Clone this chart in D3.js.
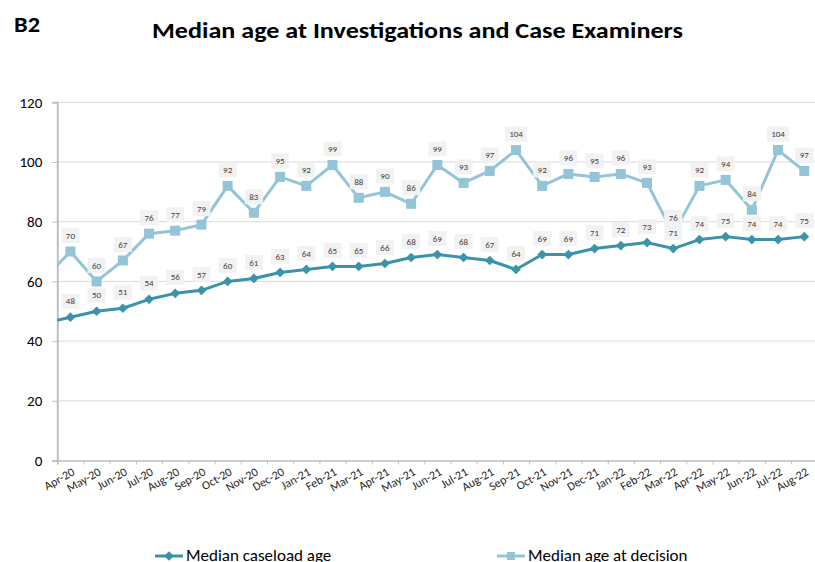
<!DOCTYPE html>
<html>
<head>
<meta charset="utf-8">
<script src="https://cdn.jsdelivr.net/npm/d3@7"></script>
<style>
  body { margin: 0; background: #fff; }
  text { font-family: Calibri, Carlito, Lato, "Open Sans", sans-serif; }
</style>
</head>
<body>
<div id="chart-area"></div>
<script>
// months shown on the axis
const months = ["Apr-20", "May-20", "Jun-20", "Jul-20", "Aug-20", "Sep-20", "Oct-20", "Nov-20", "Dec-20",
  "Jan-21", "Feb-21", "Mar-21", "Apr-21", "May-21", "Jun-21", "Jul-21", "Aug-21", "Sep-21", "Oct-21",
  "Nov-21", "Dec-21", "Jan-22", "Feb-22", "Mar-22", "Apr-22", "May-22", "Jun-22", "Jul-22", "Aug-22"];

const caseloadAge = [48, 50, 51, 54, 56, 57, 60, 61, 63, 64, 65, 65, 66, 68, 69, 68, 67, 64, 69, 69,
  71, 72, 73, 71, 74, 75, 74, 74, 75];
const decisionAge = [70, 60, 67, 76, 77, 79, 92, 83, 95, 92, 99, 88, 90, 86, 99, 93, 97, 104, 92, 96,
  95, 96, 93, 76, 92, 94, 84, 104, 97];

// Mar-20 sits just off the left edge of the plot, only its line segment shows
const priorCaseload = 46;
const priorDecision = 61;

const yTicks = [0, 20, 40, 60, 80, 100, 120];

const width = 815, height = 562;
const plotLeft = 57.3, plotBottom = 460.5, plotTop = 102.3;
const step = 26.21;

const svg = d3.select("#chart-area")
  .append("svg")
  .attr("width", width)
  .attr("height", height);

// index scale: category i is centred at i, boundaries at i +- 0.5
const x = d3.scaleLinear()
  .domain([-0.5, months.length - 0.5])
  .range([plotLeft, plotLeft + months.length * step]);

const y = d3.scaleLinear()
  .domain([0, 120])
  .range([plotBottom, plotTop]);

svg.append("defs").append("clipPath").attr("id", "plot-clip")
  .append("rect")
  .attr("x", plotLeft).attr("y", 0)
  .attr("width", width - plotLeft).attr("height", height);

// title
svg.append("text")
  .attr("x", 14).attr("y", 32)
  .attr("font-size", 23).attr("font-weight", "bold").attr("fill", "#000")
  .attr("textLength", 26).attr("lengthAdjust", "spacingAndGlyphs")
  .text("B2");

svg.append("text")
  .attr("x", 152).attr("y", 38)
  .attr("font-size", 23).attr("font-weight", "bold").attr("fill", "#000")
  .attr("textLength", 531).attr("lengthAdjust", "spacingAndGlyphs")
  .text("Median age at Investigations and Case Examiners");

// gridlines
svg.append("g")
  .selectAll("line")
  .data(yTicks.filter(d => d > 0))
  .enter()
  .append("line")
  .attr("x1", plotLeft).attr("x2", width)
  .attr("y1", d => y(d)).attr("y2", d => y(d))
  .attr("stroke", "#d9d9d9")
  .attr("stroke-width", 1);

// y axis
const yAxis = svg.append("g")
  .attr("transform", `translate(${plotLeft},0)`)
  .call(d3.axisLeft(y).tickValues(yTicks).tickSize(5).tickPadding(10));
yAxis.select(".domain").attr("stroke", "#bfbfbf").attr("stroke-width", 2);
yAxis.selectAll(".tick line").attr("stroke", "#bfbfbf");
yAxis.selectAll(".tick text")
  .attr("font-size", 15).attr("fill", "#000")
  .style("font-family", "Calibri, Carlito, Lato, 'Open Sans', sans-serif");

// x axis: ticks between categories
const xAxis = svg.append("g")
  .attr("transform", `translate(0,${plotBottom})`)
  .call(d3.axisBottom(x)
    .tickValues(d3.range(months.length + 1).map(i => i - 0.5))
    .tickSize(4)
    .tickFormat(""));
xAxis.select(".domain").attr("stroke", "#bfbfbf").attr("stroke-width", 1.5);
xAxis.selectAll(".tick line").attr("stroke", "#bfbfbf");

svg.append("g")
  .selectAll("text")
  .data(months)
  .enter()
  .append("text")
  .attr("transform", (d, i) => `translate(${x(i) + 3},${plotBottom + 10}) rotate(-30)`)
  .attr("text-anchor", "end")
  .attr("dy", "0.35em")
  .attr("font-size", 12)
  .attr("fill", "#262626")
  .text(d => d);

const darkCol = "#3A93A8";
const lightCol = "#93C4D7";

const line = d3.line()
  .x(d => x(d.i))
  .y(d => y(d.v));

function series(values, prior) {
  return [{ i: -1, v: prior }].concat(values.map((v, i) => ({ i: i, v: v })));
}

const plot = svg.append("g").attr("clip-path", "url(#plot-clip)");

plot.append("path")
  .datum(series(decisionAge, priorDecision))
  .attr("d", line)
  .attr("fill", "none")
  .attr("stroke", lightCol)
  .attr("stroke-width", 3)
  .attr("stroke-linejoin", "round");

plot.selectAll(".sq")
  .data(decisionAge)
  .enter()
  .append("rect")
  .attr("class", "sq")
  .attr("x", (d, i) => x(i) - 5)
  .attr("y", d => y(d) - 5)
  .attr("width", 10).attr("height", 10)
  .attr("fill", lightCol);

plot.append("path")
  .datum(series(caseloadAge, priorCaseload))
  .attr("d", line)
  .attr("fill", "none")
  .attr("stroke", darkCol)
  .attr("stroke-width", 3)
  .attr("stroke-linejoin", "round");

const diamond = d3.symbol().type(d3.symbolDiamond2).size(60);
plot.selectAll(".dm")
  .data(caseloadAge)
  .enter()
  .append("path")
  .attr("class", "dm")
  .attr("d", diamond)
  .attr("transform", (d, i) => `translate(${x(i)},${y(d)})`)
  .attr("fill", darkCol);

// data labels in small grey boxes above points
function labels(values, cls) {
  const g = svg.append("g")
    .selectAll("g")
    .data(values)
    .enter()
    .append("g")
    .attr("class", cls)
    .attr("transform", (d, i) => `translate(${x(i)},${y(d) - 16})`);
  g.append("rect")
    .attr("x", d => d >= 100 ? -11 : -9)
    .attr("y", -7.5)
    .attr("width", d => d >= 100 ? 22 : 18)
    .attr("height", 15)
    .attr("fill", "#f2f2f2");
  g.append("text")
    .attr("text-anchor", "middle")
    .attr("dy", "0.35em")
    .attr("font-size", 9)
    .attr("fill", "#404040")
    .text(d => d);
}
labels(decisionAge, "lab-decision");
labels(caseloadAge, "lab-caseload");

// legend
const legend = [
  { name: "Median caseload age", col: darkCol, x0: 155, shape: "diamond" },
  { name: "Median age at decision", col: lightCol, x0: 497, shape: "square" }
];
const lg = svg.append("g")
  .selectAll("g")
  .data(legend)
  .enter()
  .append("g")
  .attr("transform", d => `translate(${d.x0},556)`);
lg.append("line")
  .attr("x1", 0).attr("x2", 28)
  .attr("stroke", d => d.col).attr("stroke-width", 3);
lg.append("path")
  .attr("d", d => d.shape === "diamond" ? diamond() : d3.symbol().type(d3.symbolSquare).size(64)())
  .attr("transform", "translate(14,0)")
  .attr("fill", d => d.col);
lg.append("text")
  .attr("x", 31).attr("y", 5)
  .attr("font-size", 17).attr("fill", "#000")
  .text(d => d.name);
</script>
</body>
</html>
